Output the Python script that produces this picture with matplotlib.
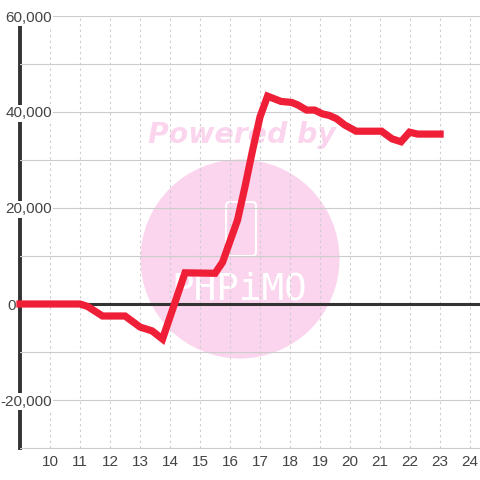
import matplotlib
matplotlib.use('Agg')
import matplotlib.pyplot as plt
from matplotlib.patches import Circle, FancyBboxPatch
from matplotlib.transforms import IdentityTransform

plt.rcParams['font.family'] = ['Liberation Sans', 'DejaVu Sans']

hours = [9, 10, 11, 11.25, 11.75, 12.5, 13, 13.4, 13.75, 14.5, 15.5, 15.75, 16.25, 16.5, 16.75,
         17, 17.25, 17.7, 18.05, 18.25, 18.55, 18.82, 19.08, 19.3, 19.55, 19.82, 20.2, 21.05,
         21.4, 21.7, 21.98, 22.25, 23]
values = [0, 0, 0, -500, -2500, -2500, -4800, -5600, -7300, 6500, 6400, 8700, 17500, 24500, 32000,
          39000, 43300, 42200, 42000, 41500, 40400, 40400, 39600, 39300, 38600, 37300, 36000, 36000,
          34400, 33800, 35800, 35400, 35400]
x_ticks = [10, 11, 12, 13, 14, 15, 16, 17, 18, 19, 20, 21, 22, 23, 24]
y_major = [-20000, 0, 20000, 40000, 60000]
y_minor = [-30000, -10000, 10000, 30000, 50000]

W = 480
fig = plt.figure(figsize=(4.8, 4.8), dpi=100)


# pixel position with y measured from the top of the picture
def px(x, y):
    return x / W, 1 - y / W


# watermark behind the axes
wm = '#fbd5ee'
fig.patches.append(Circle((240, W - 259), 99.5, transform=IdentityTransform(), color=wm, lw=0))
fig.patches.append(FancyBboxPatch((226, W - 256), 30, 54, boxstyle='round,pad=0,rounding_size=4',
                                  transform=IdentityTransform(), fc='none', ec='white', lw=1.5))
x0, y0 = px(241.5, 135)
fig.text(x0, y0, 'Powered by', color=wm, fontsize=20.4, fontweight='bold', fontstyle='italic',
         family='DejaVu Sans', ha='center', va='center')
x0, y0 = px(239, 289)
fig.text(x0, y0, 'PHPiMO', color='white', fontsize=27, family='DejaVu Sans Mono',
         ha='center', va='center')

left, top = px(20, 16)
right, bottom = px(480, 448)
ax = fig.add_axes([left, bottom, right - left, top - bottom])
ax.set_zorder(5)
ax.patch.set_alpha(0)
ax.set_xlim(9, 24.33)
ax.set_ylim(-30000, 60000)

for s in ['top', 'right']:
    ax.spines[s].set_visible(False)
ax.spines['left'].set_color('#333333')
ax.spines['left'].set_linewidth(2.8)
ax.spines['left'].set_zorder(0.4)  # under the tick labels, they cut the line
ax.spines['bottom'].set_color('#cccccc')
ax.spines['bottom'].set_linewidth(0.72)

ax.set_xticks(x_ticks)
ax.set_yticks(y_major)
ax.set_yticks(y_minor, minor=True)
ax.set_yticklabels([f'{v:,}' for v in y_major])
ax.tick_params(axis='both', which='both', length=0)
ax.tick_params(axis='x', labelsize=11, labelcolor='#444444', pad=5)
ax.tick_params(axis='y', labelsize=11, labelcolor='#444444', pad=-23)
# the zero label sits left of the axis line
ax.yaxis.get_major_ticks()[1].set_pad(3)
for v, lab in zip(y_major, ax.get_yticklabels()):
    if v != 0:
        lab.set_bbox(dict(fc='white', ec='none', pad=1))
    lab.set_clip_on(False)

ax.grid(True, axis='y', which='both', color='#cccccc', lw=0.8, zorder=1)
ax.grid(True, axis='x', color='#cccccc', lw=0.8, ls=(0, (2, 3)), zorder=1)
ax.set_axisbelow(True)

ax.axhline(0, color='#333333', lw=2.2, zorder=3)
ax.plot(hours, values, color='#f01f38', lw=5.2, zorder=4, solid_joinstyle='miter',
        solid_capstyle='projecting', clip_on=False)

fig.savefig('out.png', dpi=100)
